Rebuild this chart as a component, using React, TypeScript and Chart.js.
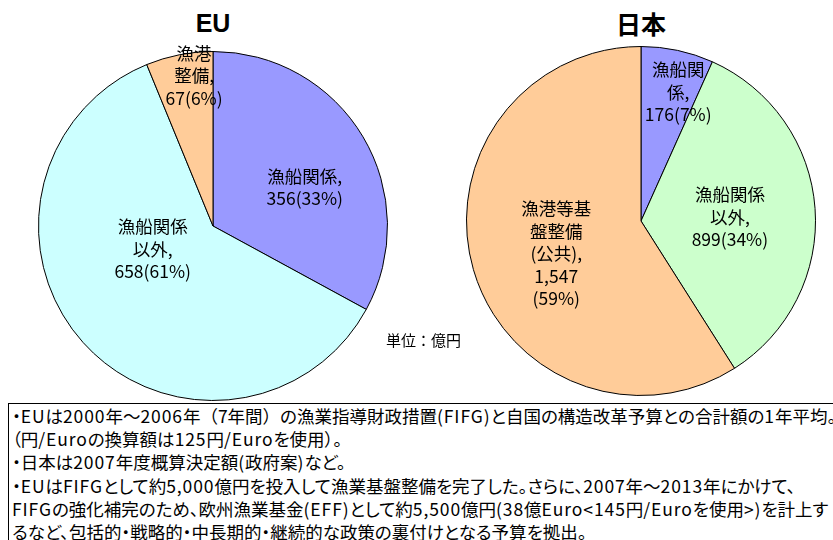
import React, { useEffect, useRef } from "react";
import { Chart, registerables } from "chart.js";

Chart.register(...registerables);

// ---- data ----
const euCategories = ["漁船関係", "漁船関係以外", "漁港整備"];
const euValues = [356, 658, 67];
const euLabelLines = [
  ["漁船関係,", "356(33%)"],
  ["漁船関係", "以外,", "658(61%)"],
  ["漁港", "整備,", "67(6%)"],
];
const jpCategories = ["漁船関係", "漁船関係以外", "漁港等基盤整備（公共）"];
const jpValues = [176, 899, 1547];
const jpLabelLines = [
  ["漁船関", "係,", "176(7%)"],
  ["漁船関係", "以外,", "899(34%)"],
  ["漁港等基", "盤整備", "(公共),", "1,547", "(59%)"],
];
const euColors = ["#9999FF", "#CCFFFF", "#FFCC99"];
const jpColors = ["#9999FF", "#CCFFCC", "#FFCC99"];

// label placement (fraction of radius, angular nudge in degrees)
const euLabelRadius = [0.57, 0.37, 0.87];
const euLabelNudge = [8, 21, 4];
const jpLabelRadius = [0.77, 0.51, 0.52];
const jpLabelNudge = [4, 1.5, -4.7];

const unitText = "単位：億円";
const notes = [
  "・EUは2000年～2006年（7年間）の漁業指導財政措置(FIFG)と自国の構造改革予算との合計額の1年平均。",
  "（円/Euroの換算額は125円/Euroを使用）。",
  "・日本は2007年度概算決定額(政府案)など。",
  "・EUはFIFGとして約5,000億円を投入して漁業基盤整備を完了した。さらに、2007年～2013年にかけて、",
  "FIFGの強化補完のため、欧州漁業基金(EFF)として約5,500億円(38億Euro<145円/Euroを使用>)を計上す",
  "るなど、包括的・戦略的・中長期的・継続的な政策の裏付けとなる予算を拠出。",
];

const FONT_JP = '"Noto Sans CJK JP", "Noto Sans", sans-serif';

const sliceLabels = {
  id: "sliceLabels",
  afterDatasetsDraw(chart: any, _args: any, opts: any) {
    const meta = chart.getDatasetMeta(0);
    const ctx = chart.ctx;
    ctx.save();
    ctx.font = opts.font;
    ctx.fillStyle = "#000";
    ctx.textAlign = "center";
    ctx.textBaseline = "middle";
    meta.data.forEach((arc: any, i: number) => {
      const p = arc.getProps(["x", "y", "startAngle", "endAngle", "outerRadius"], true);
      const mid = (p.startAngle + p.endAngle) / 2 + (opts.nudge[i] * Math.PI) / 180;
      const r = p.outerRadius * opts.radius[i];
      const cx = p.x + Math.cos(mid) * r;
      const cy = p.y + Math.sin(mid) * r;
      const lines: string[] = opts.lines[i];
      lines.forEach((t, k) => {
        ctx.fillText(t, cx, cy + (k - (lines.length - 1) / 2) * opts.lineHeight);
      });
    });
    ctx.restore();
  },
};

function Pie(props: {
  categories: string[];
  values: number[];
  colors: string[];
  lines: string[][];
  radius: number[];
  nudge: number[];
  style: React.CSSProperties;
}) {
  const ref = useRef<HTMLCanvasElement>(null);
  useEffect(() => {
    if (!ref.current) return;
    const chart = new Chart(ref.current, {
      type: "pie",
      data: {
        labels: props.categories,
        datasets: [
          {
            data: props.values,
            backgroundColor: props.colors,
            borderColor: "#000",
            borderWidth: 1,
          },
        ],
      },
      options: {
        animation: false,
        responsive: true,
        maintainAspectRatio: false,
        radius: 174.5,
        layout: { padding: 0 },
        plugins: {
          legend: { display: false },
          tooltip: { enabled: false },
          sliceLabels: {
            font: `17.5px ${FONT_JP}`,
            lineHeight: 22.5,
            lines: props.lines,
            radius: props.radius,
            nudge: props.nudge,
          },
        } as any,
      } as any,
      plugins: [sliceLabels as any],
    });
    return () => chart.destroy();
  }, []);
  return (
    <div style={{ position: "absolute", ...props.style }}>
      <canvas ref={ref} />
    </div>
  );
}

// split a line into runs so Latin text and spaced brackets look like the original
function NoteLine({ text }: { text: string }) {
  const parts = text.split(/([\x20-\x7e]+|（\d+年間）)/).filter((s) => s.length > 0);
  return (
    <div>
      {parts.map((s, i) => {
        if (/^[\x20-\x7e]+$/.test(s))
          return (
            <span key={i} style={{ letterSpacing: "0.9px" }}>
              {s}
            </span>
          );
        if (/^（\d+年間）$/.test(s))
          return (
            <span key={i} style={{ fontFeatureSettings: "normal" }}>
              {s}
            </span>
          );
        return <span key={i}>{s}</span>;
      })}
    </div>
  );
}

export default function App() {
  return (
    <div
      style={{
        position: "absolute",
        left: 0,
        top: 0,
        width: 833,
        height: 540,
        overflow: "hidden",
        background: "#fff",
      }}
    >
      <div
        style={{
          position: "absolute",
          left: 163,
          top: 7,
          width: 100,
          textAlign: "center",
          font: 'bold 25px "Liberation Sans", Arial, sans-serif',
          lineHeight: "32px",
        }}
      >
        EU
      </div>
      <div
        style={{
          position: "absolute",
          left: 591,
          top: 7,
          width: 100,
          textAlign: "center",
          font: `bold 25px ${FONT_JP}`,
          lineHeight: "32px",
        }}
      >
        日本
      </div>
      <Pie
        categories={euCategories}
        values={euValues}
        colors={euColors}
        lines={euLabelLines}
        radius={euLabelRadius}
        nudge={euLabelNudge}
        style={{ left: 3, top: 16, width: 420, height: 420 }}
      />
      <Pie
        categories={jpCategories}
        values={jpValues}
        colors={jpColors}
        lines={jpLabelLines}
        radius={jpLabelRadius}
        nudge={jpLabelNudge}
        style={{ left: 431, top: 11, width: 420, height: 420 }}
      />
      <div
        style={{
          position: "absolute",
          left: 386,
          top: 330,
          font: `15px ${FONT_JP}`,
          lineHeight: "20px",
          whiteSpace: "nowrap",
        }}
      >
        {unitText}
      </div>
      <div
        style={{
          position: "absolute",
          left: 8,
          top: 403,
          width: 900,
          height: 200,
          border: "1px solid #000",
          boxSizing: "border-box",
          paddingLeft: 3,
          font: `17.5px ${FONT_JP}`,
          fontFeatureSettings: '"palt"',
          lineHeight: "23.2px",
          whiteSpace: "pre",
          background: "#fff",
        }}
      >
        {notes.map((t, i) => (
          <NoteLine key={i} text={t} />
        ))}
      </div>
    </div>
  );
}
